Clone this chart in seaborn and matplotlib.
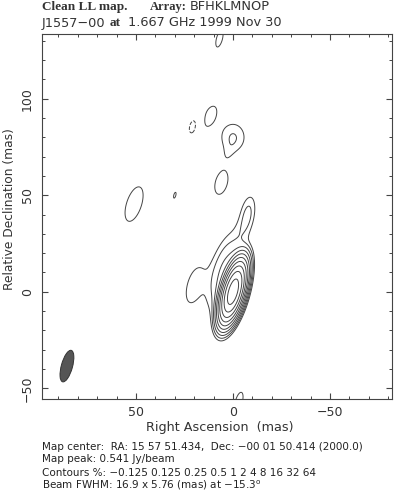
import numpy as np
import matplotlib
matplotlib.use("Agg")
import matplotlib.pyplot as plt
from matplotlib.patches import Ellipse
import seaborn as sns

# restored clean components: offsets (mas), amplitude (% of map peak), size (mas), PA (deg)
comp_ra = [0.0, 4.0, -4.0, -7.5, 19.8, 6.0, 0.0, 2.5, 12.0, 20.4, 30.0, 51.0, 7.0, -3.0]
comp_dec = [0.0, 10.0, 31.0, 40.0, 3.3, 56.5, 80.0, 72.0, 90.8, 85.6, 50.0, 45.4, 131.0, -57.0]
comp_amp = [100.0, 0.6, 0.08, 0.3, 0.2, 0.2, 0.26, 0.085, 0.17, -0.18, 0.128, 0.22, 0.15, 0.16]
comp_maj = [16.9, 28.0, 12.0, 16.0, 22.0, 15.0, 13.0, 10.0, 17.0, 12.0, 16.9, 20.6, 17.0, 17.0]
comp_min = [5.76, 10.5, 6.0, 6.0, 9.0, 7.5, 11.0, 5.0, 8.5, 6.0, 5.76, 8.5, 6.0, 6.0]
comp_pa = [-15.3, -15.0, -15.0, -10.0, -15.0, -15.0, 0.0, -20.0, -25.0, -15.0, -15.3, -18.0, -15.0, -15.0]

contour_levels = [-0.125, 0.125, 0.25, 0.5, 1, 2, 4, 8, 16, 32, 64]
x_ticks = [50, 0, -50]
y_ticks = [-50, 0, 50, 100]
beam = (85.6, -38.5, 16.9, 5.76, -15.3)

footer = [
    "Map center:  RA: 15 57 51.434,  Dec: \u221200 01 50.414 (2000.0)",
    "Map peak: 0.541 Jy/beam",
    "Contours %: \u22120.125 0.125 0.25 0.5 1 2 4 8 16 32 64",
    "Beam FWHM: 16.9 x 5.76 (mas) at \u221215.3$^{\\rm o}$",
]

sns.set_theme(style="ticks")
plt.rcParams["font.family"] = ["DejaVu Sans"]

W, H = 399, 491
fig = plt.figure(figsize=(W / 100, H / 100), dpi=100)
ax = fig.add_axes([42.3 / W, 1 - 399.3 / H, 350 / W, 365.3 / H])

ra = np.arange(-85, 100.01, 0.25)
dec = np.arange(-58, 137, 0.25)
RA, DEC = np.meshgrid(ra, dec)
img = np.zeros_like(RA)
for x0, y0, a, mj, mn, pa in zip(comp_ra, comp_dec, comp_amp, comp_maj, comp_min, comp_pa):
    t = np.deg2rad(pa)
    dx, dy = RA - x0, DEC - y0
    u = dx * np.sin(t) + dy * np.cos(t)
    v = dx * np.cos(t) - dy * np.sin(t)
    img += a * np.exp(-4 * np.log(2) * ((u / mj) ** 2 + (v / mn) ** 2))

neg = [l for l in contour_levels if l < 0]
pos = [l for l in contour_levels if l > 0]
ax.contour(RA, DEC, img, levels=neg, colors="#444444", linewidths=0.7, linestyles="dashed")
ax.contour(RA, DEC, img, levels=pos, colors="#444444", linewidths=0.7, linestyles="solid")

bx, by, bmaj, bmin, bpa = beam
ax.add_patch(Ellipse((bx, by), bmin, bmaj, angle=-bpa, facecolor="#555555",
                     edgecolor="#333333", linewidth=0.7))

ax.set_xlim(98.3, -82.1)
ax.set_ylim(-55.7, 133.5)
ax.set_xticks(x_ticks)
ax.set_yticks(y_ticks)
ax.set_xticks(np.arange(-80, 91, 10), minor=True)
ax.set_yticks(np.arange(-50, 131, 10), minor=True)
ax.tick_params(which="both", direction="in", top=True, right=True, colors="#444444",
               labelcolor="#333333", labelsize=9)
ax.tick_params(which="major", length=4, width=0.8, pad=5)
ax.tick_params(which="minor", length=2.2, width=0.7)
ax.tick_params(axis="y", pad=6)
for lab in ax.get_yticklabels():
    lab.set_rotation(90)
    lab.set_va("center")
for s in ax.spines.values():
    s.set_color("#444444")
    s.set_linewidth(0.8)

fig.text(220 / W, 1 - 427 / H, "Right Ascension  (mas)", ha="center", va="center",
         fontsize=9.2, color="#333333")
fig.text(10 / W, 1 - 209 / H, "Relative Declination (mas)", ha="center", va="center",
         rotation=90, fontsize=8.8, color="#333333")

serif = dict(family=["Liberation Serif"], fontweight="bold", color="#333333")
sans = dict(fontsize=9.3, color="#333333")
fig.text(42 / W, 1 - 10 / H, "Clean LL map.", va="baseline", fontsize=9.5, **serif)
fig.text(150 / W, 1 - 10 / H, "Array:", va="baseline", fontsize=9, **serif)
fig.text(190 / W, 1 - 10 / H, "BFHKLMNOP", va="baseline", **sans)
fig.text(42 / W, 1 - 26.5 / H, "J1557\u221200", va="baseline", **sans)
fig.text(110 / W, 1 - 26.5 / H, "at", va="baseline", fontsize=9.5, **serif)
fig.text(128 / W, 1 - 26.5 / H, "1.667 GHz 1999 Nov 30", va="baseline", **sans)

for i, line in enumerate(footer):
    fig.text(42 / W, 1 - (449.5 + 13.0 * i) / H, line, va="baseline", fontsize=7.5,
             color="#222222")

fig.savefig("out.png", dpi=100)
